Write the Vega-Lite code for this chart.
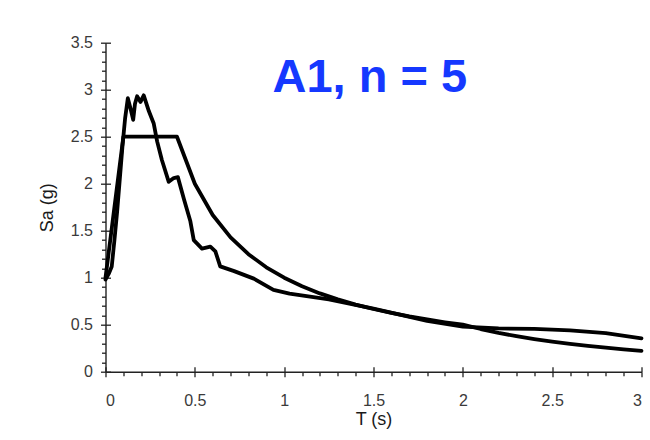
{
  "$schema": "https://vega.github.io/schema/vega-lite/v6.json",
  "width": 536,
  "height": 329,
  "autosize": "none",
  "padding": {"left": 105.5, "top": 42.7, "right": 8.5, "bottom": 68.3},
  "background": "#ffffff",
  "title": {
    "text": "A1, n = 5",
    "anchor": "start",
    "frame": "group",
    "orient": "top",
    "offset": 0,
    "dx": 167,
    "dy": 104,
    "baseline": "alphabetic",
    "font": "Liberation Sans",
    "fontSize": 47,
    "fontWeight": "bold",
    "color": "#1538ff"
  },
  "config": {
    "view": {"stroke": null},
    "axis": {
      "grid": false,
      "labelFont": "Liberation Sans",
      "titleFont": "Liberation Sans",
      "labelColor": "#3a3a3a",
      "titleColor": "#1a1a1a",
      "domainColor": "#222222",
      "tickColor": "#222222",
      "domainWidth": 1.4,
      "tickWidth": 1.3
    }
  },
  "datasets": {
    "design": [
      {"T": 0.0, "Sa": 1.0}, {"T": 0.1, "Sa": 2.5}, {"T": 0.4, "Sa": 2.5},
      {"T": 0.5, "Sa": 2.0}, {"T": 0.6, "Sa": 1.667}, {"T": 0.7, "Sa": 1.429},
      {"T": 0.8, "Sa": 1.25}, {"T": 0.9, "Sa": 1.111}, {"T": 1.0, "Sa": 1.0},
      {"T": 1.1, "Sa": 0.909}, {"T": 1.2, "Sa": 0.833}, {"T": 1.3, "Sa": 0.769},
      {"T": 1.4, "Sa": 0.714}, {"T": 1.5, "Sa": 0.667}, {"T": 1.6, "Sa": 0.625},
      {"T": 1.7, "Sa": 0.588}, {"T": 1.8, "Sa": 0.556}, {"T": 1.9, "Sa": 0.526},
      {"T": 2.0, "Sa": 0.5}, {"T": 2.1, "Sa": 0.454}, {"T": 2.2, "Sa": 0.413},
      {"T": 2.3, "Sa": 0.378}, {"T": 2.4, "Sa": 0.347}, {"T": 2.5, "Sa": 0.32},
      {"T": 2.6, "Sa": 0.296}, {"T": 2.7, "Sa": 0.274}, {"T": 2.8, "Sa": 0.255},
      {"T": 2.9, "Sa": 0.238}, {"T": 3.0, "Sa": 0.222}
    ],
    "mean": [
      {"T": 0.0, "Sa": 0.98}, {"T": 0.02, "Sa": 1.05}, {"T": 0.035, "Sa": 1.12},
      {"T": 0.05, "Sa": 1.4}, {"T": 0.065, "Sa": 1.7}, {"T": 0.08, "Sa": 2.05},
      {"T": 0.095, "Sa": 2.4}, {"T": 0.11, "Sa": 2.7}, {"T": 0.125, "Sa": 2.91},
      {"T": 0.14, "Sa": 2.8}, {"T": 0.155, "Sa": 2.68}, {"T": 0.165, "Sa": 2.85},
      {"T": 0.177, "Sa": 2.93}, {"T": 0.196, "Sa": 2.87}, {"T": 0.214, "Sa": 2.94},
      {"T": 0.243, "Sa": 2.77}, {"T": 0.27, "Sa": 2.64}, {"T": 0.289, "Sa": 2.45},
      {"T": 0.316, "Sa": 2.25}, {"T": 0.354, "Sa": 2.02}, {"T": 0.382, "Sa": 2.06},
      {"T": 0.405, "Sa": 2.07}, {"T": 0.44, "Sa": 1.83}, {"T": 0.475, "Sa": 1.6},
      {"T": 0.494, "Sa": 1.4}, {"T": 0.54, "Sa": 1.31}, {"T": 0.587, "Sa": 1.33},
      {"T": 0.615, "Sa": 1.28}, {"T": 0.642, "Sa": 1.12}, {"T": 0.72, "Sa": 1.07},
      {"T": 0.83, "Sa": 0.99}, {"T": 0.94, "Sa": 0.87}, {"T": 1.03, "Sa": 0.83},
      {"T": 1.25, "Sa": 0.77}, {"T": 1.5, "Sa": 0.67}, {"T": 1.8, "Sa": 0.54},
      {"T": 2.0, "Sa": 0.48}, {"T": 2.2, "Sa": 0.46}, {"T": 2.4, "Sa": 0.455},
      {"T": 2.6, "Sa": 0.44}, {"T": 2.8, "Sa": 0.41}, {"T": 3.0, "Sa": 0.355}
    ]
  },
  "layer": [
    {
      "data": {"name": "design"},
      "mark": {"type": "line", "color": "#000000", "strokeWidth": 3.8, "strokeJoin": "round", "strokeCap": "round"},
      "encoding": {
        "x": {
          "field": "T", "type": "quantitative",
          "scale": {"domain": [0, 3], "nice": false, "zero": false},
          "axis": {
            "orient": "bottom",
            "title": "T (s)",
            "values": [0, 0.5, 1, 1.5, 2, 2.5, 3],
            "format": "~g",
            "tickSize": 5,
            "labelPadding": 16,
            "labelFontSize": 16,
            "titleFontSize": 18,
            "titleFontWeight": "normal",
            "titlePadding": 2
          }
        },
        "y": {
          "field": "Sa", "type": "quantitative",
          "scale": {"domain": [0, 3.5], "nice": false, "zero": false},
          "axis": {
            "orient": "left",
            "title": "Sa (g)",
            "values": [0, 0.5, 1, 1.5, 2, 2.5, 3, 3.5],
            "format": "~g",
            "tickSize": 5,
            "labelPadding": 8,
            "labelFontSize": 16,
            "titleFontSize": 18,
            "titleFontWeight": "normal",
            "titlePadding": 14
          }
        }
      }
    },
    {
      "data": {"name": "mean"},
      "mark": {"type": "line", "color": "#000000", "strokeWidth": 3.8, "strokeJoin": "round", "strokeCap": "round"},
      "encoding": {
        "x": {
          "field": "T", "type": "quantitative",
          "scale": {"domain": [0, 3], "nice": false, "zero": false},
          "axis": {
            "orient": "bottom", "title": null, "labels": false, "domain": false,
            "values": [0.1, 0.2, 0.3, 0.4, 0.6, 0.7, 0.8, 0.9, 1.1, 1.2, 1.3, 1.4, 1.6, 1.7, 1.8, 1.9, 2.1, 2.2, 2.3, 2.4, 2.6, 2.7, 2.8, 2.9],
            "tickSize": 4
          }
        },
        "y": {
          "field": "Sa", "type": "quantitative",
          "scale": {"domain": [0, 3.5], "nice": false, "zero": false},
          "axis": {
            "orient": "left", "title": null, "labels": false, "domain": false,
            "values": [0.1, 0.2, 0.3, 0.4, 0.6, 0.7, 0.8, 0.9, 1.1, 1.2, 1.3, 1.4, 1.6, 1.7, 1.8, 1.9, 2.1, 2.2, 2.3, 2.4, 2.6, 2.7, 2.8, 2.9, 3.1, 3.2, 3.3, 3.4],
            "tickSize": 4
          }
        }
      }
    },
    {
      "data": {"name": "mean"},
      "mark": {"type": "line", "strokeOpacity": 0},
      "encoding": {
        "x": {
          "field": "T", "type": "quantitative",
          "scale": {"domain": [0, 3], "nice": false, "zero": false},
          "axis": {
            "orient": "bottom", "title": null, "labels": false, "domain": false,
            "values": [0, 0.5, 1, 1.5, 2, 2.5, 3],
            "tickSize": -5
          }
        },
        "y": {
          "field": "Sa", "type": "quantitative",
          "scale": {"domain": [0, 3.5], "nice": false, "zero": false},
          "axis": {
            "orient": "left", "title": null, "labels": false, "domain": false,
            "values": [0, 0.5, 1, 1.5, 2, 2.5, 3, 3.5],
            "tickSize": -5
          }
        }
      }
    }
  ],
  "resolve": {"axis": {"x": "independent", "y": "independent"}}
}
